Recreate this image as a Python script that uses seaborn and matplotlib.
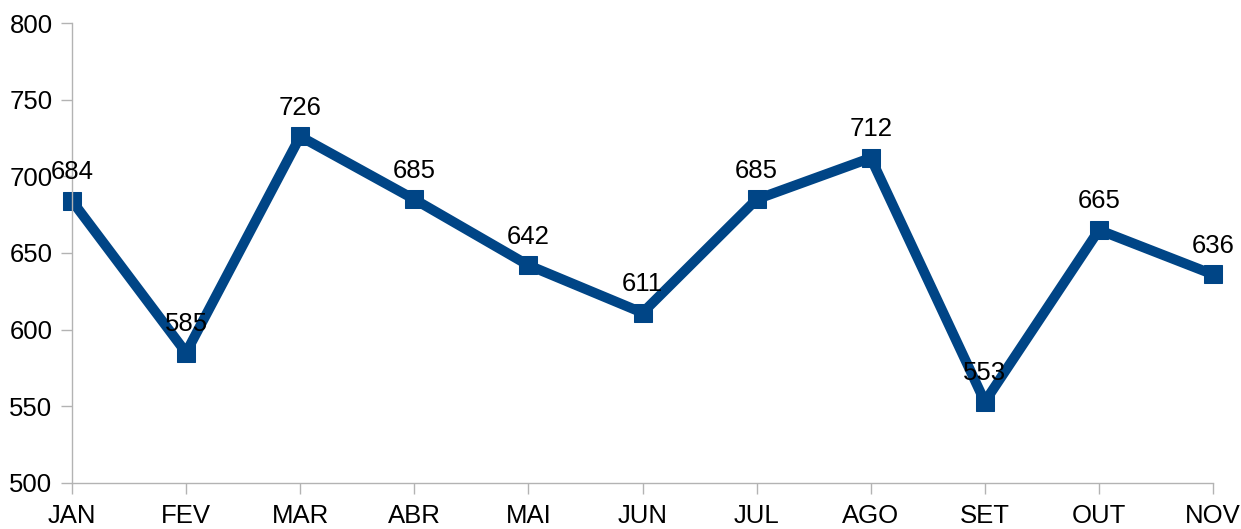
import matplotlib
matplotlib.use("Agg")
import matplotlib.pyplot as plt
import seaborn as sns
import pandas as pd

meses = ["JAN", "FEV", "MAR", "ABR", "MAI", "JUN", "JUL", "AGO", "SET", "OUT", "NOV"]
valores = [684, 585, 726, 685, 642, 611, 685, 712, 553, 665, 636]

sns.set_style("white")
plt.rcParams["font.family"] = ["Liberation Sans", "DejaVu Sans"]

df = pd.DataFrame({"mes": meses, "valor": valores})
cor = "#004586"

fig = plt.figure(figsize=(12.41, 5.29), dpi=100)
ax = fig.add_axes([0.058, 0.087, 0.9195, 0.8695])

sns.lineplot(data=df, x="mes", y="valor", ax=ax, color=cor, linewidth=7.2,
             marker="s", markersize=13, markeredgecolor=cor, sort=False)

for i, v in enumerate(valores):
    ax.annotate(str(v), (i, v), xytext=(0, 12), textcoords="offset points",
                ha="center", va="bottom", fontsize=18.5, color="black")

ax.set_ylim(500, 800)
ax.set_yticks(range(500, 801, 50))
ax.set_xlim(0, len(meses) - 1)
ax.set_xlabel("")
ax.set_ylabel("")

for s in ["top", "right"]:
    ax.spines[s].set_visible(False)
for s in ["left", "bottom"]:
    ax.spines[s].set_color("#b3b3b3")
    ax.spines[s].set_linewidth(1)

ax.tick_params(axis="both", which="both", length=8, width=1, color="#b3b3b3",
               labelsize=18.5, labelcolor="black")
ax.tick_params(axis="y", left=True, pad=6)
ax.tick_params(axis="x", bottom=True, pad=7)

for a in ax.lines:
    a.set_clip_on(False)

fig.savefig("out.png", dpi=100)
